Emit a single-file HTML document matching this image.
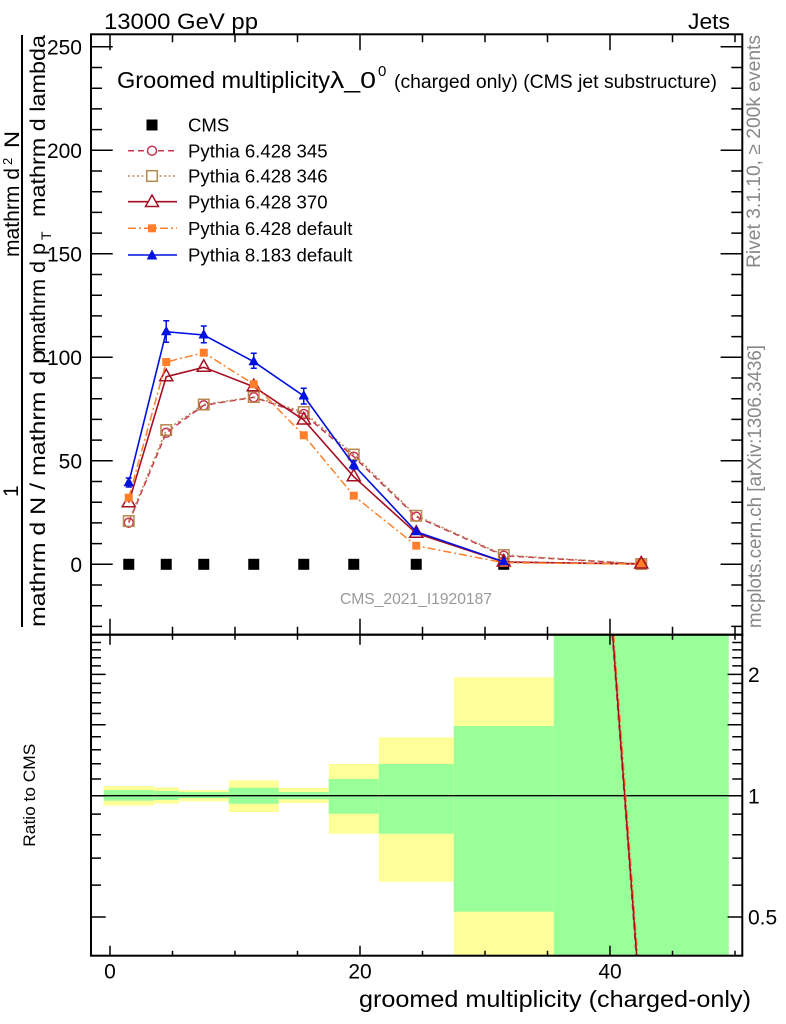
<!DOCTYPE html>
<html><head><meta charset="utf-8"><style>
html,body{margin:0;padding:0;background:#fff;}
svg{display:block;}
text{font-family:"Liberation Sans",Arial,sans-serif;}
</style></head><body>
<svg width="786" height="1024" viewBox="0 0 786 1024" xmlns="http://www.w3.org/2000/svg">
<rect x="0" y="0" width="786" height="1024" fill="#fff"/>
<defs>
<clipPath id="cr"><rect x="91" y="634.7" width="651.3" height="321"/></clipPath>
<clipPath id="cm"><rect x="91" y="34.3" width="651.3" height="600.4"/></clipPath>
</defs>

<!-- top labels -->
<text x="104" y="29" font-size="22" textLength="154" lengthAdjust="spacingAndGlyphs">13000 GeV pp</text>
<text x="688" y="29" font-size="22" textLength="42" lengthAdjust="spacingAndGlyphs">Jets</text>

<!-- ratio bands -->
<g clip-path="url(#cr)">
<rect x="103.75" y="786" width="50" height="19.7" fill="#ffff99"/>
<rect x="103.75" y="790" width="50" height="10.7" fill="#99ff99"/>
<rect x="153.75" y="787.3" width="25" height="16.4" fill="#ffff99"/>
<rect x="153.75" y="791" width="25" height="9" fill="#99ff99"/>
<rect x="178.75" y="790" width="50" height="11.3" fill="#ffff99"/>
<rect x="178.75" y="792" width="50" height="6.3" fill="#99ff99"/>
<rect x="228.75" y="780.3" width="50" height="31.7" fill="#ffff99"/>
<rect x="228.75" y="787.7" width="50" height="16" fill="#99ff99"/>
<rect x="278.75" y="788" width="50" height="15" fill="#ffff99"/>
<rect x="278.75" y="792" width="50" height="7.3" fill="#99ff99"/>
<rect x="328.75" y="764" width="50" height="69.7" fill="#ffff99"/>
<rect x="328.75" y="779" width="50" height="34.7" fill="#99ff99"/>
<rect x="378.75" y="737.3" width="75" height="144.4" fill="#ffff99"/>
<rect x="378.75" y="764" width="75" height="69.7" fill="#99ff99"/>
<rect x="453.75" y="677.3" width="100" height="280" fill="#ffff99"/>
<rect x="453.75" y="726" width="100" height="185.7" fill="#99ff99"/>
<rect x="553.75" y="634.7" width="175" height="321" fill="#99ff99"/>
<line x1="91" y1="795.7" x2="742.3" y2="795.7" stroke="#000" stroke-width="1.3"/>
<line x1="613.7" y1="634.7" x2="637.7" y2="955.7" stroke="#ff7f2a" stroke-width="1.5" stroke-dasharray="8,3,2,3"/>
<line x1="612.2" y1="634.7" x2="636.2" y2="955.7" stroke="#c83250" stroke-width="1.5" stroke-dasharray="6,4"/>
<line x1="612.7" y1="634.7" x2="636.7" y2="955.7" stroke="#a50f22" stroke-width="1.5"/>
</g>

<!-- main plot data -->
<g clip-path="url(#cm)">
<!-- CMS -->
<g fill="#000">
<rect x="123.25" y="558.8" width="11" height="11"/>
<rect x="160.75" y="558.8" width="11" height="11"/>
<rect x="198.25" y="558.8" width="11" height="11"/>
<rect x="248.25" y="558.8" width="11" height="11"/>
<rect x="298.25" y="558.8" width="11" height="11"/>
<rect x="348.25" y="558.8" width="11" height="11"/>
<rect x="410.75" y="558.8" width="11" height="11"/>
<rect x="498.25" y="558.8" width="11" height="11"/>
</g>
<!-- 345 -->
<path d="M128.75 522.7 L166.25 432.7 L203.75 405.3 L253.75 397.3 L303.75 414 L353.75 456.7 L416.25 516.7 L503.75 555.7 L641.25 564" fill="none" stroke="#c83250" stroke-width="1.5" stroke-dasharray="6,4"/>
<g fill="none" stroke="#c83250" stroke-width="1.5">
<circle cx="128.75" cy="522.7" r="4.5"/><circle cx="166.25" cy="432.7" r="4.5"/><circle cx="203.75" cy="405.3" r="4.5"/><circle cx="253.75" cy="397.3" r="4.5"/><circle cx="303.75" cy="414" r="4.5"/><circle cx="353.75" cy="456.7" r="4.5"/><circle cx="416.25" cy="516.7" r="4.5"/><circle cx="503.75" cy="555.7" r="4.5"/><circle cx="641.25" cy="564" r="4.5"/>
</g>
<!-- 346 -->
<path d="M128.75 521 L166.25 430 L203.75 404.5 L253.75 397 L303.75 412 L353.75 454.5 L416.25 515.7 L503.75 555 L641.25 564" fill="none" stroke="#b5884e" stroke-width="1.5" stroke-dasharray="2,2.5"/>
<g fill="none" stroke="#b5884e" stroke-width="1.5">
<rect x="123.5" y="515.8" width="10.5" height="10.5"/><rect x="161" y="424.8" width="10.5" height="10.5"/><rect x="198.5" y="399.3" width="10.5" height="10.5"/><rect x="248.5" y="391.8" width="10.5" height="10.5"/><rect x="298.5" y="406.8" width="10.5" height="10.5"/><rect x="348.5" y="449.3" width="10.5" height="10.5"/><rect x="411" y="510.5" width="10.5" height="10.5"/><rect x="498.5" y="549.8" width="10.5" height="10.5"/><rect x="636" y="558.8" width="10.5" height="10.5"/>
</g>
<!-- 370 -->
<path d="M128.75 502.7 L166.25 376.7 L203.75 367.3 L253.75 386.7 L303.75 420 L353.75 476.7 L416.25 533.3 L503.75 562 L641.25 564" fill="none" stroke="#a50f22" stroke-width="1.6"/>
<g fill="none" stroke="#a50f22" stroke-width="1.5">
<path d="M128.75 495.2 L135.25 506.7 L122.25 506.7 Z"/>
<path d="M166.25 369.2 L172.75 380.7 L159.75 380.7 Z"/>
<path d="M203.75 359.8 L210.25 371.3 L197.25 371.3 Z"/>
<path d="M253.75 379.2 L260.25 390.7 L247.25 390.7 Z"/>
<path d="M303.75 412.5 L310.25 424 L297.25 424 Z"/>
<path d="M353.75 469.2 L360.25 480.7 L347.25 480.7 Z"/>
<path d="M416.25 525.8 L422.75 537.3 L409.75 537.3 Z"/>
<path d="M503.75 554.5 L510.25 566 L497.25 566 Z"/>
</g>
<!-- 6.428 default -->
<path d="M128.75 497.7 L166.25 362 L203.75 352.7 L253.75 384.3 L303.75 435.3 L353.75 495.7 L416.25 545.7 L503.75 562.7 L641.25 564" fill="none" stroke="#ff7f2a" stroke-width="1.5" stroke-dasharray="8,3,2,3"/>
<g fill="#ff7f2a">
<rect x="124.75" y="493.7" width="8" height="8"/><rect x="162.25" y="358" width="8" height="8"/><rect x="199.75" y="348.7" width="8" height="8"/><rect x="249.75" y="380.3" width="8" height="8"/><rect x="299.75" y="431.3" width="8" height="8"/><rect x="349.75" y="491.7" width="8" height="8"/><rect x="412.25" y="541.7" width="8" height="8"/><rect x="499.75" y="558.7" width="8" height="8"/><rect x="636.75" y="559.5" width="9" height="9"/>
</g>
<path d="M641.25 556.5 L647.75 568 L634.75 568 Z" fill="none" stroke="#a50f22" stroke-width="1.5"/>
<!-- 8.183 default -->
<path d="M128.75 482.7 L166.25 331.7 L203.75 335 L253.75 361.7 L303.75 396 L353.75 465 L416.25 531.7 L503.75 561.7" fill="none" stroke="#0010e0" stroke-width="1.6"/>
<g stroke="#0010e0" stroke-width="1.5" fill="none">
<path d="M128.75 478 V487 M125.75 478 h6 M125.75 487 h6"/>
<path d="M166.25 320.7 V342.3 M163.25 320.7 h6 M163.25 342.3 h6"/>
<path d="M203.75 326 V342.7 M200.75 326 h6 M200.75 342.7 h6"/>
<path d="M253.75 353.3 V368.3 M250.75 353.3 h6 M250.75 368.3 h6"/>
<path d="M303.75 388.3 V404 M300.75 388.3 h6 M300.75 404 h6"/>
<path d="M353.75 461 V469 M350.75 461 h6 M350.75 469 h6"/>
</g>
<g fill="#0010e0">
<path d="M128.75 476.7 L134 486.2 L123.5 486.2 Z"/>
<path d="M166.25 325.7 L171.5 335.2 L161 335.2 Z"/>
<path d="M203.75 329 L209 338.5 L198.5 338.5 Z"/>
<path d="M253.75 355.7 L259 365.2 L248.5 365.2 Z"/>
<path d="M303.75 390 L309 399.5 L298.5 399.5 Z"/>
<path d="M353.75 459 L359 468.5 L348.5 468.5 Z"/>
<path d="M416.25 525.7 L421.5 535.2 L411 535.2 Z"/>
<path d="M503.75 555.7 L509 565.2 L498.5 565.2 Z"/>
</g>
</g>

<!-- frames -->
<rect x="91" y="34.3" width="651.3" height="600.4" fill="none" stroke="#000" stroke-width="2"/>
<rect x="91" y="634.7" width="651.3" height="321" fill="none" stroke="#000" stroke-width="2"/>

<!-- main y ticks -->
<path stroke="#000" stroke-width="1.5" fill="none" d="
M91 564.3h21.7 M91 460.8h21.7 M91 357.3h21.7 M91 253.8h21.7 M91 150.3h21.7 M91 46.8h21.7
M91 626.4h11 M91 605.7h11 M91 585h11 M91 543.6h11 M91 522.9h11 M91 502.2h11 M91 481.5h11
M91 440.1h11 M91 419.4h11 M91 398.7h11 M91 378h11 M91 336.6h11 M91 315.9h11 M91 295.2h11 M91 274.5h11
M91 233.1h11 M91 212.4h11 M91 191.7h11 M91 171h11 M91 129.6h11 M91 108.9h11 M91 88.2h11 M91 67.5h11
M742.3 564.3h-21.7 M742.3 460.8h-21.7 M742.3 357.3h-21.7 M742.3 253.8h-21.7 M742.3 150.3h-21.7 M742.3 46.8h-21.7
M742.3 626.4h-11 M742.3 605.7h-11 M742.3 585h-11 M742.3 543.6h-11 M742.3 522.9h-11 M742.3 502.2h-11 M742.3 481.5h-11
M742.3 440.1h-11 M742.3 419.4h-11 M742.3 398.7h-11 M742.3 378h-11 M742.3 336.6h-11 M742.3 315.9h-11 M742.3 295.2h-11 M742.3 274.5h-11
M742.3 233.1h-11 M742.3 212.4h-11 M742.3 191.7h-11 M742.3 171h-11 M742.3 129.6h-11 M742.3 108.9h-11 M742.3 88.2h-11 M742.3 67.5h-11
"/>
<!-- main x ticks -->
<path stroke="#000" stroke-width="1.5" fill="none" d="
M110 34.3v16 M360 34.3v16 M610 34.3v16
M172.5 34.3v8 M235 34.3v8 M297.5 34.3v8 M422.5 34.3v8 M485 34.3v8 M547.5 34.3v8 M672.5 34.3v8 M735 34.3v8
M110 634.7v-16 M360 634.7v-16 M610 634.7v-16
M172.5 634.7v-8 M235 634.7v-8 M297.5 634.7v-8 M422.5 634.7v-8 M485 634.7v-8 M547.5 634.7v-8 M672.5 634.7v-8 M735 634.7v-8
"/>
<!-- ratio x ticks -->
<path stroke="#000" stroke-width="1.5" fill="none" d="
M110 634.7v10 M360 634.7v10 M610 634.7v10
M172.5 634.7v5 M235 634.7v5 M297.5 634.7v5 M422.5 634.7v5 M485 634.7v5 M547.5 634.7v5 M672.5 634.7v5 M735 634.7v5
M110 955.7v-10 M360 955.7v-10 M610 955.7v-10
M172.5 955.7v-5 M235 955.7v-5 M297.5 955.7v-5 M422.5 955.7v-5 M485 955.7v-5 M547.5 955.7v-5 M672.5 955.7v-5 M735 955.7v-5
"/>
<!-- ratio y ticks -->
<path stroke="#000" stroke-width="1.5" fill="none" d="
M91 917h14.7 M91 795.7h14.7 M91 724.7h14.7 M91 674.4h14.7
M91 885.1h10 M91 858.1h10 M91 834.7h10 M91 814.1h10 M91 779h10 M91 763.8h10 M91 749.8h10 M91 736.8h10
M91 713.5h10 M91 702.8h10 M91 692.8h10 M91 683.4h10 M91 665.9h10 M91 657.7h10 M91 649.9h10 M91 642.5h10
M742.3 917h-14.7 M742.3 795.7h-14.7 M742.3 724.7h-14.7 M742.3 674.4h-14.7
M742.3 885.1h-10 M742.3 858.1h-10 M742.3 834.7h-10 M742.3 814.1h-10 M742.3 779h-10 M742.3 763.8h-10 M742.3 749.8h-10 M742.3 736.8h-10
M742.3 713.5h-10 M742.3 702.8h-10 M742.3 692.8h-10 M742.3 683.4h-10 M742.3 665.9h-10 M742.3 657.7h-10 M742.3 649.9h-10 M742.3 642.5h-10
"/>

<!-- main y tick labels -->
<g font-size="21" text-anchor="end">
<text x="82" y="572">0</text>
<text x="82" y="468.5">50</text>
<text x="82" y="365">100</text>
<text x="82" y="261.5">150</text>
<text x="82" y="158">200</text>
<text x="82" y="54.5">250</text>
</g>
<!-- ratio labels -->
<g font-size="21">
<text x="748" y="682">2</text>
<text x="748" y="803.3">1</text>
<text x="748" y="924.5">0.5</text>
</g>
<g font-size="21" text-anchor="middle">
<text x="110" y="978.5">0</text>
<text x="360" y="978.5">20</text>
<text x="610" y="978.5">40</text>
</g>
<text x="359" y="1007" font-size="23" textLength="392" lengthAdjust="spacingAndGlyphs">groomed multiplicity (charged-only)</text>
<text transform="translate(35,846.7) rotate(-90)" font-size="17" textLength="103" lengthAdjust="spacingAndGlyphs">Ratio to CMS</text>

<!-- title -->
<text x="117" y="88" font-size="23" textLength="213" lengthAdjust="spacingAndGlyphs">Groomed multiplicity</text>
<text x="330" y="88" font-size="23" textLength="46" lengthAdjust="spacingAndGlyphs">λ_0</text>
<text x="378" y="76" font-size="15">0</text>
<text x="394" y="88" font-size="19" textLength="323" lengthAdjust="spacingAndGlyphs">(charged only) (CMS jet substructure)</text>

<!-- legend -->
<rect x="146.5" y="119.5" width="11" height="11" fill="#000"/>
<text x="188" y="131.6" font-size="18.6">CMS</text>
<line x1="128" y1="150.7" x2="177" y2="150.7" stroke="#c83250" stroke-width="1.5" stroke-dasharray="6,4"/>
<circle cx="152" cy="150.7" r="4.5" fill="#fff" stroke="#c83250" stroke-width="1.5"/>
<text x="188" y="157.3" font-size="18.6">Pythia 6.428 345</text>
<line x1="128" y1="176" x2="177" y2="176" stroke="#b5884e" stroke-width="1.5" stroke-dasharray="2,2.5"/>
<rect x="146.7" y="170.7" width="10.6" height="10.6" fill="#fff" stroke="#b5884e" stroke-width="1.5"/>
<text x="188" y="182.6" font-size="18.6">Pythia 6.428 346</text>
<line x1="128" y1="201.7" x2="177" y2="201.7" stroke="#a50f22" stroke-width="1.6"/>
<path d="M152 195 L158.5 206.5 L145.5 206.5 Z" fill="#fff" stroke="#a50f22" stroke-width="1.5"/>
<text x="188" y="208.3" font-size="18.6">Pythia 6.428 370</text>
<line x1="128" y1="228.3" x2="177" y2="228.3" stroke="#ff7f2a" stroke-width="1.5" stroke-dasharray="8,3,2,3"/>
<rect x="148" y="224.3" width="8" height="8" fill="#ff7f2a"/>
<text x="188" y="234.9" font-size="18.6">Pythia 6.428 default</text>
<line x1="128" y1="255" x2="177" y2="255" stroke="#0010e0" stroke-width="1.6"/>
<path d="M152 249.5 L157.3 259.5 L146.7 259.5 Z" fill="#0010e0"/>
<text x="188" y="261.6" font-size="18.6">Pythia 8.183 default</text>

<!-- watermark -->
<text x="340" y="604" font-size="15.5" fill="#999" textLength="152" lengthAdjust="spacingAndGlyphs">CMS_2021_I1920187</text>

<!-- right side texts -->
<text transform="translate(760,268) rotate(-90)" font-size="19" fill="#888" textLength="233" lengthAdjust="spacingAndGlyphs">Rivet 3.1.10, ≥ 200k events</text>
<text transform="translate(761,628) rotate(-90)" font-size="19" fill="#888" textLength="283" lengthAdjust="spacingAndGlyphs">mcplots.cern.ch [arXiv:1306.3436]</text>

<!-- y axis label -->
<line x1="22" y1="35" x2="22" y2="627" stroke="#000" stroke-width="2"/>
<text transform="translate(19,257) rotate(-90)" font-size="21" textLength="89" lengthAdjust="spacingAndGlyphs">mathrm d</text>
<text transform="translate(12,165) rotate(-90)" font-size="13">2</text>
<text transform="translate(19,148) rotate(-90)" font-size="21" textLength="17" lengthAdjust="spacingAndGlyphs">N</text>
<text transform="translate(18,497) rotate(-90)" font-size="21">1</text>
<text transform="translate(45,627) rotate(-90)" font-size="21" textLength="277" lengthAdjust="spacingAndGlyphs">mathrm d N / mathrm d p</text>
<text transform="translate(45,352) rotate(-90)" font-size="21" textLength="109" lengthAdjust="spacingAndGlyphs">mathrm d p</text>
<text transform="translate(51,240) rotate(-90)" font-size="14">T</text>
<text transform="translate(45,217) rotate(-90)" font-size="21" textLength="182" lengthAdjust="spacingAndGlyphs">mathrm d lambda</text>
</svg>
</body></html>
